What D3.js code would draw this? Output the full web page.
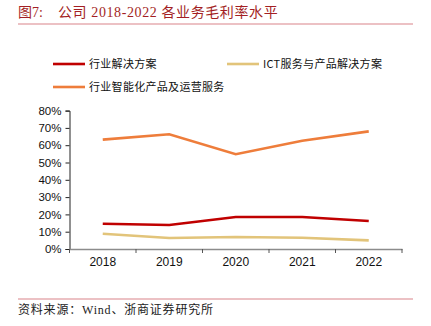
<!DOCTYPE html>
<html>
<head>
<meta charset="utf-8">
<script src="https://cdn.jsdelivr.net/npm/d3@7/dist/d3.min.js"></script>
<style>
  html, body { margin: 0; padding: 0; background: #fff; }
  svg { display: block; }
</style>
</head>
<body>
<script>
// Gross margin by business line, 2018-2022
const years = ["2018", "2019", "2020", "2021", "2022"];
const industrySolutions = [0.146, 0.139, 0.185, 0.185, 0.162];
const ictServices = [0.088, 0.064, 0.069, 0.065, 0.050];
const smartProducts = [0.632, 0.663, 0.548, 0.626, 0.680];
const yTicks = [0, 0.1, 0.2, 0.3, 0.4, 0.5, 0.6, 0.7, 0.8];

const seriesNames = ["行业解决方案", "ICT服务与产品解决方案", "行业智能化产品及运营服务"];
const seriesColors = ["#c00000", "#e2c47a", "#ee7d3b"];
const seriesValues = [industrySolutions, ictServices, smartProducts];

const W = 431, H = 326;
const svg = d3.select("body").append("svg").attr("width", W).attr("height", H);

const serifCJK = "'Liberation Serif', 'Noto Sans CJK SC', serif";
const sansCJK = "'Noto Sans CJK SC', sans-serif";

// Heading
const title = svg.append("text")
  .attr("y", 17)
  .attr("fill", "#a31f24")
  .attr("font-family", serifCJK)
  .attr("font-size", 14);
title.append("tspan").attr("x", 18).text("图7:");
title.append("tspan").attr("x", 58).attr("letter-spacing", 0.6)
  .text("公司 2018-2022 各业务毛利率水平");
svg.append("line")
  .attr("x1", 18).attr("x2", 413).attr("y1", 24).attr("y2", 24)
  .attr("stroke", "#d9848a").attr("stroke-width", 1.2);

// Footer
svg.append("line")
  .attr("x1", 18).attr("x2", 413).attr("y1", 299).attr("y2", 299)
  .attr("stroke", "#d9848a").attr("stroke-width", 1.2);
svg.append("text")
  .attr("x", 18).attr("y", 314)
  .attr("fill", "#222")
  .attr("font-family", serifCJK)
  .attr("font-size", 12)
  .attr("letter-spacing", 0.8)
  .text("资料来源：Wind、浙商证券研究所");

// Scales
const x = d3.scaleBand().domain(years).range([69.5, 402]);
const y = d3.scaleLinear().domain([0, 0.8]).range([249, 110.6]);

// Y axis
const yAxis = svg.append("g")
  .attr("transform", "translate(69.5,0)")
  .call(d3.axisLeft(y).tickValues(yTicks).tickFormat(d3.format(".0%")).tickSize(4).tickPadding(4));
yAxis.select(".domain").attr("stroke", "#222").attr("stroke-width", 1);
yAxis.selectAll(".tick line").attr("stroke", "#222");
yAxis.selectAll("text")
  .attr("font-family", "'Liberation Sans', Arial, sans-serif")
  .attr("font-size", 11.5).attr("fill", "#111");

// X axis with ticks at category boundaries
const xAxis = svg.append("g")
  .attr("transform", `translate(0,${y(0)})`)
  .call(d3.axisBottom(x).tickSize(0).tickPadding(8));
xAxis.select(".domain").attr("stroke", "#8c8c8c").attr("stroke-width", 1.6);
xAxis.selectAll("text")
  .attr("font-family", "'Liberation Sans', Arial, sans-serif")
  .attr("font-size", 12).attr("fill", "#111");
const bounds = years.map(d => x(d)).concat([x.range()[1]]);
xAxis.selectAll(".bound").data(bounds).enter().append("line")
  .attr("x1", d => d).attr("x2", d => d)
  .attr("y1", 0).attr("y2", 4)
  .attr("stroke", "#555").attr("stroke-width", 1);

// Lines
const line = d3.line()
  .x((d, i) => x(years[i]) + x.bandwidth() / 2)
  .y(d => y(d));
seriesValues.forEach((vals, k) => {
  svg.append("path")
    .datum(vals)
    .attr("d", line)
    .attr("fill", "none")
    .attr("stroke", seriesColors[k])
    .attr("stroke-width", 2.6)
    .attr("stroke-linejoin", "miter");
});

// Legend
const legendPos = [[53, 64], [227, 64], [53, 87]];
seriesNames.forEach((name, k) => {
  const [lx, ly] = legendPos[k];
  svg.append("line")
    .attr("x1", lx).attr("x2", lx + 32).attr("y1", ly).attr("y2", ly)
    .attr("stroke", seriesColors[k]).attr("stroke-width", 2.6);
  svg.append("text")
    .attr("x", lx + 36).attr("y", ly + 4)
    .attr("font-family", sansCJK)
    .attr("font-size", 11)
    .attr("letter-spacing", 0.3)
    .attr("fill", "#111")
    .text(name);
});
</script>
</body>
</html>
